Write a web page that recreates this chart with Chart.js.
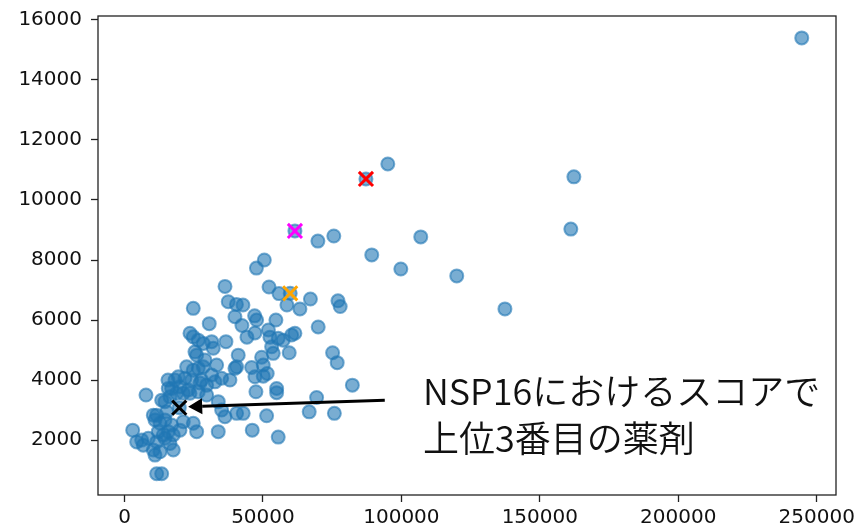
<!DOCTYPE html>
<html>
<head>
<meta charset="utf-8">
<script src="https://cdn.jsdelivr.net/npm/chart.js@4.4.1/dist/chart.umd.min.js"></script>
<style>
  html, body { margin: 0; padding: 0; background: #fff; }
  #wrap { width: 861px; height: 530px; }
</style>
</head>
<body>
<div id="wrap"><canvas id="chart" width="861" height="530"></canvas></div>
<script>
// scores of every drug (x: score A, y: score B)
const scoreX = [
  244600, 162300, 161200, 95100, 87200, 107000, 89300, 99800, 120000, 137400,
  61550, 69850, 75600, 50500, 47650, 36300, 52200, 55800, 59850, 67150,
  77100, 77900, 37470, 42780, 40430, 24840, 58660, 63360, 39890, 47000,
  47720, 54690, 30610, 42420, 69960, 44220, 47110, 51980, 52530, 55520,
  57330, 60360, 61550, 53140, 53720, 59490, 75160, 76820, 49530, 41080,
  40500, 45920, 47110, 50110, 50110, 51550, 38090, 47470, 54950, 54950,
  69380, 82300, 40500, 42880, 51330, 66710, 75800, 46140, 55520, 23650,
  24840, 26640, 28450, 31480, 32060, 36640, 25450, 26060, 29060, 28450,
  33280, 7760, 2960, 4400, 6210, 6790, 8590, 10400, 11010, 12820,
  11620, 13430, 17620, 16430, 14010, 15810, 12200, 10400, 12820, 14620,
  17040, 20040, 15230, 19780, 14620, 16430, 18840, 17040, 18230, 19420,
  21840, 21230, 24840, 26060, 33860, 35090, 36280, 33860, 35090, 32670,
  31480, 26640, 27870, 24260, 15810, 13430, 11620, 11010, 21230, 17620,
  14620, 11620, 29670, 26640, 23650, 27260, 39890, 20040, 23030, 29670,
  15700, 22450, 24840
];
const scoreY = [
  15400, 10770, 9030, 11200, 10700, 8770, 8170, 7700, 7470, 6370,
  8970, 8630, 8800, 8000, 7730, 7120, 7100, 6880, 6890, 6700,
  6640, 6450, 6610, 6500, 6520, 6390, 6500, 6370, 6110, 6140,
  6000, 6000, 5880, 5820, 5770, 5430, 5570, 5670, 5430, 5390,
  5330, 5500, 5560, 5110, 4890, 4910, 4910, 4580, 4760, 4830,
  4440, 4420, 4110, 4500, 4130, 4220, 4000, 3610, 3720, 3580,
  3420, 3830, 2890, 2890, 2810, 2940, 2890, 2330, 2100, 5560,
  5440, 5330, 5220, 5280, 5060, 5280, 4940, 4830, 4670, 4440,
  4500, 3500, 2330, 1940, 2000, 1830, 2060, 1670, 1500, 1610,
  880, 880, 1670, 1890, 2170, 2280, 2280, 2830, 2560, 2670,
  2500, 2330, 2940, 3080, 3280, 3440, 3560, 3720, 4000, 4110,
  4060, 3560, 2560, 2280, 3280, 3000, 2780, 2280, 4060, 3940,
  4170, 4390, 4000, 4000, 3720, 3330, 2830, 2670, 2610, 2170,
  2060, 1940, 3500, 3610, 3560, 3900, 4390, 3780, 3670, 3830,
  4000, 4440, 4330
];

// highlighted drugs (x markers)
const markX = [87200, 61550, 59850, 19780];
const markY = [10700, 8970, 6890, 3080];
const markColors = ["#ff0000", "#ff00ff", "#ffa500", "#000000"];

// axes
const xTicks = [0, 50000, 100000, 150000, 200000, 250000];
const yTicks = [2000, 4000, 6000, 8000, 10000, 12000, 14000, 16000];
const xRange = [-9570, 256970];
const yRange = [170, 16130];

// annotation
const noteLines = ["NSP16におけるスコアで", "上位3番目の薬剤"];
const noteAt = [107800, 3170];
const arrowFrom = [94000, 3330];
const arrowTo = [23000, 3110];

const tickFont = { family: "DejaVu Sans", size: 20 };

const framePlugin = {
  id: "frame",
  beforeDraw(chart) {
    const { ctx, width, height } = chart;
    ctx.save();
    ctx.fillStyle = "#fff";
    ctx.fillRect(0, 0, width, height);
    ctx.restore();
  },
  afterDraw(chart) {
    const { ctx, chartArea: a, scales: { x, y } } = chart;
    ctx.save();
    ctx.strokeStyle = "#222";
    ctx.lineWidth = 1.3;
    ctx.strokeRect(a.left, a.top, a.right - a.left, a.bottom - a.top);

    // arrow
    const x0 = x.getPixelForValue(arrowFrom[0]), y0 = y.getPixelForValue(arrowFrom[1]);
    const x1 = x.getPixelForValue(arrowTo[0]), y1 = y.getPixelForValue(arrowTo[1]);
    const ang = Math.atan2(y1 - y0, x1 - x0);
    const headLen = 14, headW = 8;
    const bx = x1 - headLen * Math.cos(ang), by = y1 - headLen * Math.sin(ang);
    ctx.strokeStyle = "#000";
    ctx.fillStyle = "#000";
    ctx.lineWidth = 3;
    ctx.beginPath();
    ctx.moveTo(x0, y0);
    ctx.lineTo(bx, by);
    ctx.stroke();
    ctx.beginPath();
    ctx.moveTo(x1, y1);
    ctx.lineTo(bx + headW * Math.sin(ang), by - headW * Math.cos(ang));
    ctx.lineTo(bx - headW * Math.sin(ang), by + headW * Math.cos(ang));
    ctx.closePath();
    ctx.fill();

    // note text
    ctx.fillStyle = "#111";
    ctx.font = '350 36px "Noto Sans CJK JP"';
    ctx.textAlign = "left";
    ctx.textBaseline = "alphabetic";
    const tx = x.getPixelForValue(noteAt[0]);
    const ty = y.getPixelForValue(noteAt[1]);
    noteLines.forEach((line, i) => ctx.fillText(line, tx, ty + i * 47));
    ctx.restore();
  },
};

new Chart(document.getElementById("chart"), {
  type: "scatter",
  data: {
    datasets: [
      {
        label: "marks",
        data: markX.map((v, i) => ({ x: v, y: markY[i] })),
        pointStyle: "crossRot",
        pointRadius: 10,
        pointBorderWidth: 3,
        pointBorderColor: markColors,
        pointBackgroundColor: markColors,
        order: 0,
      },
      {
        label: "drugs",
        data: scoreX.map((v, i) => ({ x: v, y: scoreY[i] })),
        pointRadius: 6.5,
        pointBorderWidth: 2,
        pointBackgroundColor: "rgba(31,119,180,0.6)",
        pointBorderColor: "rgba(31,119,180,0.6)",
        order: 1,
      },
    ],
  },
  options: {
    responsive: false,
    animation: false,
    devicePixelRatio: 1,
    layout: { padding: { top: 16, right: 25, left: 0, bottom: 0 } },
    plugins: { legend: { display: false }, tooltip: { enabled: false } },
    scales: {
      x: {
        type: "linear",
        min: xRange[0],
        max: xRange[1],
        afterBuildTicks: (s) => { s.ticks = xTicks.map((v) => ({ value: v })); },
        afterFit: (s) => { s.height = 35; s.paddingLeft = 0; s.paddingRight = 0; },
        border: { display: false },
        grid: { drawOnChartArea: false, drawTicks: true, tickLength: 7, tickColor: "#222", tickWidth: 1.3 },
        ticks: { font: tickFont, color: "#111", padding: 4, maxRotation: 0, autoSkip: false, callback: (v) => String(v) },
      },
      y: {
        type: "linear",
        min: yRange[0],
        max: yRange[1],
        afterBuildTicks: (s) => { s.ticks = yTicks.map((v) => ({ value: v })); },
        afterFit: (s) => { s.width = 98; s.paddingTop = 0; s.paddingBottom = 0; },
        border: { display: false },
        grid: { drawOnChartArea: false, drawTicks: true, tickLength: 7, tickColor: "#222", tickWidth: 1.3 },
        ticks: { font: tickFont, color: "#111", padding: 9, autoSkip: false, callback: (v) => String(v) },
      },
    },
  },
  plugins: [framePlugin],
});
</script>
</body>
</html>
